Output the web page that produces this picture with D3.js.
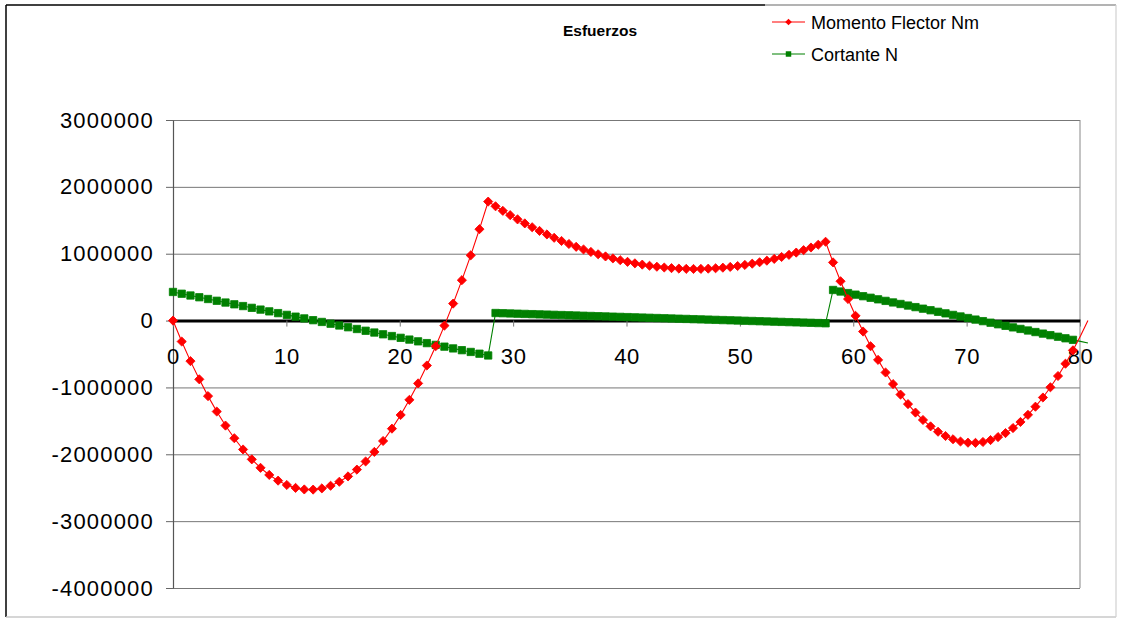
<!DOCTYPE html>
<html>
<head>
<meta charset="utf-8">
<script src="https://cdn.jsdelivr.net/npm/d3@7"></script>
<style>
  html, body { margin: 0; padding: 0; background: #fff; }
  svg { display: block; font-family: "Liberation Sans", Arial, sans-serif; }
</style>
</head>
<body>
<svg id="chart" width="1122" height="619"></svg>
<script>
// Esfuerzos en una viga continua de tres tramos: momento flector y cortante.

// Posiciones a lo largo de la viga (m), tramo por tramo
const xTramo1 = [0, 0.77, 1.54, 2.32, 3.09, 3.86, 4.63, 5.41, 6.18, 6.95, 7.72, 8.49, 9.27,
  10.04, 10.81, 11.58, 12.36, 13.13, 13.90, 14.67, 15.44, 16.22, 16.99, 17.76, 18.53, 19.31,
  20.08, 20.85, 21.62, 22.39, 23.17, 23.94, 24.71, 25.48, 26.26, 27.03, 27.80];
const xTramo2 = [28.45, 29.09, 29.74, 30.39, 31.03, 31.68, 32.33, 32.98, 33.62, 34.27, 34.92,
  35.56, 36.21, 36.86, 37.50, 38.15, 38.80, 39.45, 40.09, 40.74, 41.39, 42.03, 42.68, 43.33,
  43.97, 44.62, 45.27, 45.91, 46.56, 47.21, 47.86, 48.50, 49.15, 49.80, 50.44, 51.09, 51.74,
  52.38, 53.03, 53.68, 54.33, 54.97, 55.62, 56.27, 56.91, 57.56];
const xTramo3 = [58.22, 58.88, 59.54, 60.20, 60.87, 61.53, 62.19, 62.85, 63.51, 64.17, 64.83,
  65.49, 66.15, 66.82, 67.48, 68.14, 68.80, 69.46, 70.12, 70.78, 71.44, 72.11, 72.77, 73.43,
  74.09, 74.75, 75.41, 76.07, 76.73, 77.39, 78.06, 78.72, 79.38, 80.04, 80.70];

// Momento flector (Nm)
const momentoTramo1 = [0, -313600, -606500, -878600, -1130000, -1360600, -1570500, -1759600,
  -1928000, -2075600, -2202600, -2308800, -2394100, -2458800, -2502700, -2526000, -2528200,
  -2510000, -2471000, -2411200, -2330700, -2229200, -2107300, -1964500, -1801100, -1616500,
  -1411600, -1185900, -939500, -672300, -384000, -75400, 254000, 604200, 975500, 1367100, 1779500];
const momentoTramo2 = [1709600, 1641700, 1576500, 1513700, 1453500, 1395800, 1340700, 1288200,
  1238200, 1190700, 1145800, 1103400, 1063600, 1026400, 991600, 959500, 929800, 902800, 878200,
  856200, 836800, 819900, 805500, 793700, 784500, 777800, 773600, 772000, 773000, 776400, 782500,
  791100, 802200, 815900, 832100, 850900, 872200, 896000, 922400, 951400, 982900, 1017000,
  1053600, 1092700, 1134400, 1178600];
const momentoTramo3 = [870100, 588400, 322100, 71100, -164100, -383800, -587900, -776400,
  -949600, -1107200, -1249500, -1376000, -1486800, -1582400, -1662300, -1726600, -1775500,
  -1808900, -1826700, -1829000, -1815800, -1787000, -1742800, -1683000, -1607500, -1516600,
  -1410200, -1288300, -1150900, -997900, -829400, -645100, -445600, -230500, 0];

// Esfuerzo cortante (N)
const cortanteTramo1 = [428000, 401600, 375200, 348800, 322500, 296100, 269700, 243300, 216900,
  190500, 164100, 137700, 111400, 85000, 58600, 32200, 5800, -20600, -47000, -73400, -99700,
  -126100, -152500, -178900, -205300, -231700, -258100, -284400, -310800, -337200, -363600,
  -390000, -416400, -442800, -469200, -495500, -521900];
const cortanteTramo2 = [113200, 109800, 106400, 102900, 99500, 96100, 92700, 89300, 85900, 82500,
  79100, 75700, 72200, 68800, 65400, 62000, 58600, 55200, 51800, 48400, 44900, 41500, 38100,
  34700, 31300, 27900, 24500, 21100, 17700, 14300, 10800, 7400, 4000, 600, -2800, -6200, -9600,
  -13000, -16400, -19800, -23300, -26700, -30100, -33500, -36900, -40300];
const cortanteTramo3 = [457700, 434400, 411000, 387700, 364400, 341100, 317800, 294500, 271200,
  247900, 224600, 201200, 177900, 154600, 131300, 108000, 84700, 61400, 38100, 14700, -8600,
  -31900, -55200, -78500, -101800, -125100, -148400, -171800, -195100, -218400, -241700, -265000,
  -288300, -311600, -334900];

// Ejes
const xTicks = [0, 10, 20, 30, 40, 50, 60, 70, 80];
const xTickLabels = ["0", "10", "20", "30", "40", "50", "60", "70", "80"];
const yTicks = [3000000, 2000000, 1000000, 0, -1000000, -2000000, -3000000, -4000000];
const yTickLabels = ["3000000", "2000000", "1000000", "0", "-1000000", "-2000000", "-3000000", "-4000000"];

const titulo = "Esfuerzos";
const series = [
  { nombre: "Momento Flector Nm", color: "#ff0000", simbolo: "diamond",
    x: [...xTramo1, ...xTramo2, ...xTramo3],
    v: [...momentoTramo1, ...momentoTramo2, ...momentoTramo3] },
  { nombre: "Cortante N", color: "#008000", simbolo: "square",
    x: [...xTramo1, ...xTramo2, ...xTramo3],
    v: [...cortanteTramo1, ...cortanteTramo2, ...cortanteTramo3] }
];

const svg = d3.select("#chart");
const W = 1122, H = 619;
const plot = { left: 173, right: 1080, top: 120, bottom: 588 };

svg.append("rect").attr("width", W).attr("height", H).attr("fill", "#fff");

// Marco del gráfico
svg.append("line").attr("x1", 6).attr("x2", 6).attr("y1", 5).attr("y2", 617)
  .attr("stroke", "#000").attr("stroke-width", 1.5);
svg.append("line").attr("x1", 6).attr("x2", 765).attr("y1", 5).attr("y2", 5)
  .attr("stroke", "#000").attr("stroke-width", 1.5);
svg.append("line").attr("x1", 765).attr("x2", 1116).attr("y1", 5).attr("y2", 5)
  .attr("stroke", "#9a9a9a").attr("stroke-width", 1.5);
svg.append("line").attr("x1", 6).attr("x2", 1116).attr("y1", 617).attr("y2", 617)
  .attr("stroke", "#c8c8c8").attr("stroke-width", 1.5);
svg.append("line").attr("x1", 1116).attr("x2", 1116).attr("y1", 5).attr("y2", 617)
  .attr("stroke", "#d0d0d0").attr("stroke-width", 1.2);

const x = d3.scaleLinear().domain([0, 80]).range([plot.left, plot.right]);
const y = d3.scaleLinear().domain([-4000000, 3000000]).range([plot.bottom, plot.top]);

// Líneas de división horizontales
const grid = svg.append("g").attr("transform", `translate(${plot.left},0)`)
  .call(d3.axisLeft(y).tickValues(yTicks).tickSize(-(plot.right - plot.left)).tickFormat(""));
grid.select(".domain").remove();
grid.selectAll("line").attr("stroke", "#777").attr("stroke-width", 1);

// Borde derecho del área de trazado
svg.append("line").attr("x1", plot.right).attr("x2", plot.right)
  .attr("y1", plot.top).attr("y2", plot.bottom).attr("stroke", "#888").attr("stroke-width", 1);

// Eje vertical
const yAxis = svg.append("g").attr("transform", `translate(${plot.left},0)`)
  .call(d3.axisLeft(y).tickValues(yTicks).tickSize(7).tickSizeOuter(0).tickPadding(12)
    .tickFormat((d, i) => yTickLabels[i]));
yAxis.select(".domain").attr("stroke", "#555").attr("stroke-width", 1.2);
yAxis.selectAll(".tick line").attr("stroke", "#666");
yAxis.selectAll("text").attr("font-size", 22).attr("fill", "#000")
  .attr("letter-spacing", 1.2).attr("font-family", "Liberation Sans, Arial, sans-serif");

// Eje horizontal sobre el cero
const xAxis = svg.append("g").attr("transform", `translate(0,${y(0)})`)
  .call(d3.axisBottom(x).tickValues(xTicks).tickSize(6).tickSizeOuter(0)
    .tickFormat((d, i) => xTickLabels[i]));
xAxis.select(".domain").attr("stroke", "#000").attr("stroke-width", 3);
xAxis.selectAll(".tick line").attr("stroke", "#777");
xAxis.selectAll("text").attr("font-size", 22).attr("fill", "#000").attr("y", 43).attr("dy", 0)
  .attr("letter-spacing", 0.6).attr("font-family", "Liberation Sans, Arial, sans-serif");

// Series
const simbolos = { diamond: d3.symbol().type(d3.symbolSquare).size(42),
                   square: d3.symbol().type(d3.symbolSquare).size(54) };
const line = d3.line().x(d => x(d[0])).y(d => y(d[1]));

[series[1], series[0]].forEach(s => {
  const pts = s.x.map((xv, i) => [xv, s.v[i]]);
  const g = svg.append("g");
  g.append("path").datum(pts).attr("d", line).attr("fill", "none")
    .attr("stroke", s.color).attr("stroke-width", 1.1);
  g.selectAll("path.mk").data(pts.filter(p => p[0] <= 80)).join("path")
    .attr("class", "mk")
    .attr("d", simbolos[s.simbolo])
    .attr("transform", p => `translate(${x(p[0])},${y(p[1])})` + (s.simbolo === "diamond" ? " rotate(45)" : ""))
    .attr("fill", s.color).attr("stroke", s.color).attr("stroke-width", 0.8);
});

// Título
svg.append("text").attr("x", 600).attr("y", 36).attr("text-anchor", "middle")
  .attr("font-size", 15.5).attr("font-weight", "bold").text(titulo);

// Leyenda
const leyenda = svg.append("g");
series.forEach((s, i) => {
  const cy = 22 + i * 32;
  leyenda.append("line").attr("x1", 772).attr("x2", 805).attr("y1", cy).attr("y2", cy)
    .attr("stroke", s.color).attr("stroke-width", 1.2);
  leyenda.append("path").attr("d", d3.symbol().type(d3.symbolSquare).size(s.simbolo === "diamond" ? 22 : 30))
    .attr("transform", `translate(788.5,${cy})` + (s.simbolo === "diamond" ? " rotate(45)" : ""))
    .attr("fill", s.color);
  leyenda.append("text").attr("x", 811).attr("y", cy + 6.5).attr("font-size", 18)
    .attr("fill", "#000").text(s.nombre);
});
</script>
</body>
</html>
